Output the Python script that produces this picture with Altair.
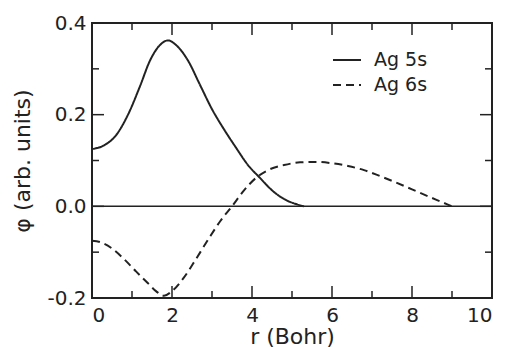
import altair as alt
import pandas as pd

# Radial wavefunctions of the Ag 5s and 6s orbitals
r_5s = [0.0, 0.3, 0.6, 0.9, 1.2, 1.45, 1.7, 1.9, 2.1, 2.4, 2.7, 3.0, 3.3, 3.6,
        3.9, 4.2, 4.5, 4.8, 5.1, 5.3]
phi_5s = [0.125, 0.133, 0.155, 0.200, 0.262, 0.318, 0.352, 0.362, 0.352, 0.318,
          0.265, 0.212, 0.168, 0.128, 0.090, 0.062, 0.035, 0.016, 0.005, 0.0]

r_6s = [0.0, 0.2, 0.5, 0.8, 1.1, 1.4, 1.6, 1.8, 2.0, 2.3, 2.6, 2.9, 3.2, 3.5,
        3.8, 4.1, 4.4, 4.8, 5.2, 5.6, 6.0, 6.4, 6.8, 7.2, 7.6, 8.0, 8.4, 8.7, 9.0]
phi_6s = [-0.075, -0.078, -0.092, -0.115, -0.142, -0.168, -0.185, -0.195, -0.185,
          -0.155, -0.115, -0.073, -0.033, 0.000, 0.035, 0.062, 0.079, 0.090, 0.096,
          0.097, 0.094, 0.088, 0.079, 0.066, 0.052, 0.037, 0.022, 0.011, 0.0]

series = ["Ag 5s", "Ag 6s"]

x_major = [2, 4, 6, 8]
x_minor = [1, 3, 5, 7, 9]
y_major = [-0.2, 0.0, 0.2, 0.4]
y_minor = [-0.1, 0.1, 0.3]
x_labels = [0, 2, 4, 6, 8, 10]
y_labels = [-0.2, 0.0, 0.2, 0.4]

W, H = 400, 275
MAJOR, MINOR = 12, 7
FONT = "DejaVu Sans"
INK = "#222"

curves = pd.concat([
    pd.DataFrame({"r": r_5s, "phi": phi_5s, "orbital": series[0]}),
    pd.DataFrame({"r": r_6s, "phi": phi_6s, "orbital": series[1]}),
])

x_scale = alt.Scale(domain=[0, 10], nice=False)
y_scale = alt.Scale(domain=[-0.2, 0.4], nice=False)

lines = alt.Chart(curves).mark_line(color=INK, strokeWidth=2, interpolate="monotone").encode(
    x=alt.X("r:Q", scale=x_scale,
            axis=alt.Axis(title="r (Bohr)", values=x_labels, tickSize=0,
                          domain=False, grid=False, labelPadding=7,
                          titlePadding=1)),
    y=alt.Y("phi:Q", scale=y_scale,
            axis=alt.Axis(title="φ (arb. units)", values=y_labels, tickSize=0,
                          domain=False, grid=False, labelPadding=6,
                          titlePadding=12,
                          labelExpr="datum.value < 0 ? '-' + format(-datum.value, '.1f') : format(datum.value, '.1f')")),
    strokeDash=alt.StrokeDash(
        "orbital:N",
        scale=alt.Scale(domain=series, range=[[1, 0], [8, 5]]),
        legend=alt.Legend(title=None, orient="none", legendX=240, legendY=22,
                          symbolType="stroke", symbolSize=784,
                          symbolStrokeWidth=2, symbolStrokeColor=INK,
                          labelFontSize=19, labelFont=FONT, labelColor=INK,
                          labelOffset=12, rowPadding=0),
    ),
    detail="orbital:N",
)

zero = alt.Chart(pd.DataFrame({"y": [0.0]})).mark_rule(
    color=INK, strokeWidth=1.5
).encode(y=alt.Y("y:Q", scale=y_scale), x=alt.value(0), x2=alt.value(W))

xt_major = pd.DataFrame({"v": x_major})
xt_minor = pd.DataFrame({"v": x_minor})
yt_major = pd.DataFrame({"v": y_major})
yt_minor = pd.DataFrame({"v": y_minor})


def xticks(df, length):
    bottom = alt.Chart(df).mark_rule(color=INK, strokeWidth=1.5).encode(
        x=alt.X("v:Q", scale=x_scale), y=alt.value(H), y2=alt.value(H - length))
    top = alt.Chart(df).mark_rule(color=INK, strokeWidth=1.5).encode(
        x=alt.X("v:Q", scale=x_scale), y=alt.value(0), y2=alt.value(length))
    return [bottom, top]


def yticks(df, length):
    left = alt.Chart(df).mark_rule(color=INK, strokeWidth=1.5).encode(
        y=alt.Y("v:Q", scale=y_scale), x=alt.value(0), x2=alt.value(length))
    right = alt.Chart(df).mark_rule(color=INK, strokeWidth=1.5).encode(
        y=alt.Y("v:Q", scale=y_scale), x=alt.value(W), x2=alt.value(W - length))
    return [left, right]


layers = [lines, zero] + xticks(xt_major, MAJOR) + xticks(xt_minor, MINOR) \
    + yticks(yt_major, MAJOR) + yticks(yt_minor, MINOR)

chart = alt.layer(*layers).properties(
    width=W, height=H,
    autosize="none",
    background="white",
    padding={"left": 92, "top": 23, "right": 16, "bottom": 49},
).configure_view(
    stroke=INK, strokeWidth=2
).configure_axis(
    labelFont=FONT, labelFontSize=20, labelColor=INK,
    titleFont=FONT, titleFontSize=22, titleFontWeight="normal", titleColor=INK,
)

chart.save("out.html", embed_options={"renderer": "svg", "actions": False})
